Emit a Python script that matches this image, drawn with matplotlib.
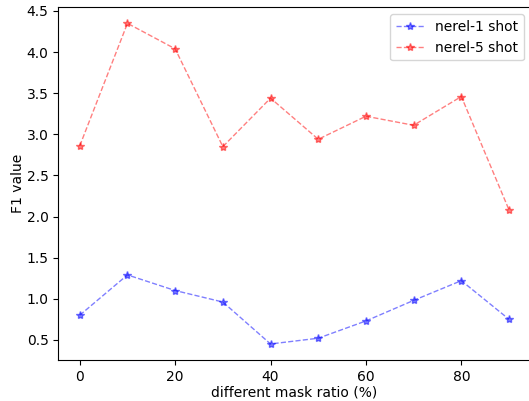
import matplotlib
matplotlib.use("Agg")
import matplotlib.pyplot as plt

mask_ratio = [0, 10, 20, 30, 40, 50, 60, 70, 80, 90]
nerel_1 = [0.80, 1.29, 1.10, 0.96, 0.45, 0.52, 0.73, 0.98, 1.22, 0.75]
nerel_5 = [2.86, 4.35, 4.04, 2.85, 3.44, 2.94, 3.22, 3.11, 3.46, 2.08]

fig = plt.figure(figsize=(5.29, 4.01), dpi=100)
ax = fig.add_axes([58.3/529, 1 - 360/401, (530.5-58.3)/529, (360-7.3)/401])
ax.plot(mask_ratio, nerel_1, 'b*--', alpha=0.5, linewidth=1, label='nerel-1 shot')
ax.plot(mask_ratio, nerel_5, 'r*--', alpha=0.5, linewidth=1, label='nerel-5 shot')
ax.set_xlabel('different mask ratio (%)', labelpad=1)
ax.set_ylabel('F1 value', labelpad=1)
ax.legend(loc='upper right')
fig.savefig('out.png', dpi=100)
